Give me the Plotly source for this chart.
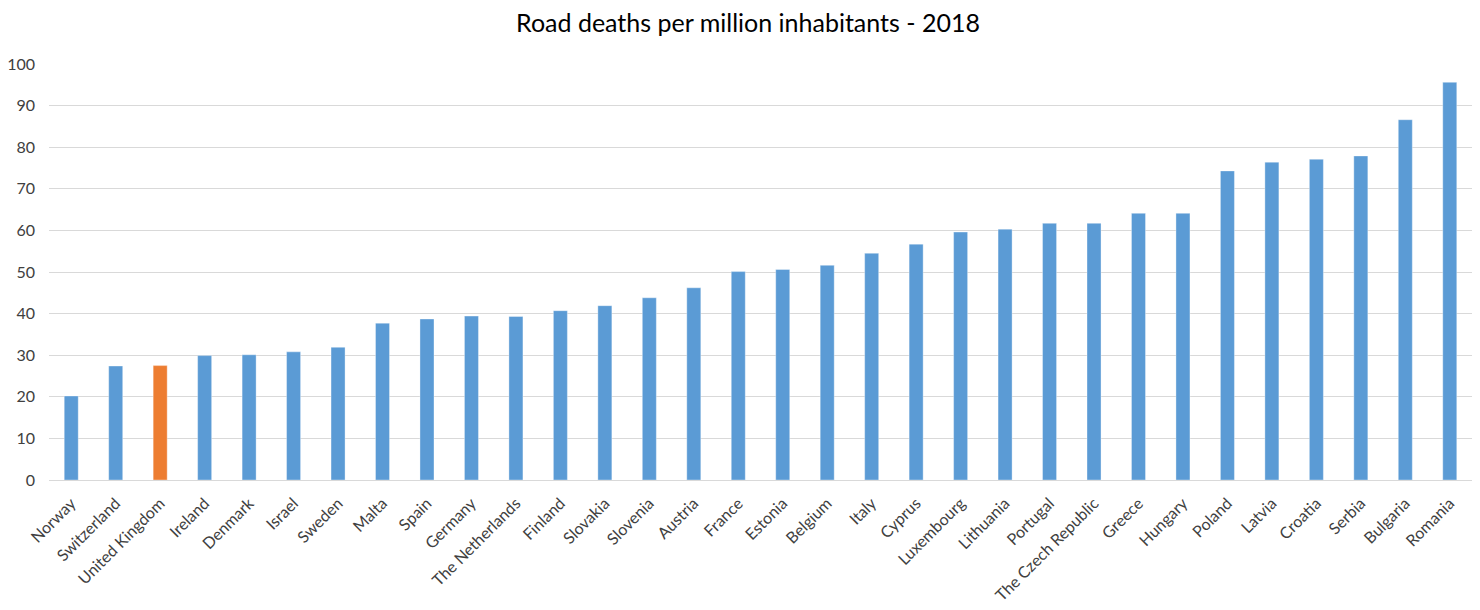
import plotly.graph_objects as go

countries = ["Norway", "Switzerland", "United Kingdom", "Ireland", "Denmark", "Israel", "Sweden",
             "Malta", "Spain", "Germany", "The Netherlands", "Finland", "Slovakia", "Slovenia",
             "Austria", "France", "Estonia", "Belgium", "Italy", "Cyprus", "Luxembourg",
             "Lithuania", "Portugal", "The Czech Republic", "Greece", "Hungary", "Poland",
             "Latvia", "Croatia", "Serbia", "Bulgaria", "Romania"]
deaths = [20.2, 27.4, 27.5, 29.9, 30.1, 30.8, 31.9,
          37.7, 38.7, 39.4, 39.3, 40.7, 41.9, 43.8,
          46.2, 50.1, 50.6, 51.6, 54.5, 56.7, 59.6,
          60.3, 61.7, 61.7, 64.1, 64.1, 74.3,
          76.4, 77.1, 77.9, 86.6, 95.6]
highlight = "United Kingdom"
y_ticks = list(range(0, 101, 10))

colors = ["#ED7D31" if c == highlight else "#5B9BD5" for c in countries]

fig = go.Figure(go.Bar(
    x=countries, y=deaths,
    marker=dict(color=colors, line=dict(color="rgba(255,255,255,0.35)", width=1)),
))

fig.update_layout(
    width=1480, height=610,
    paper_bgcolor="white", plot_bgcolor="white",
    margin=dict(l=41, r=16, t=56, b=138),
    bargap=0.685,
    showlegend=False,
    title=dict(text="Road deaths per million inhabitants - 2018", x=0.5, xref="container",
               xanchor="center",
               y=1 - 15 / 610, yref="container", yanchor="middle",
               font=dict(family="Lato, Open Sans, sans-serif", size=25, color="#000000")),
    font=dict(family="Lato, Open Sans, sans-serif", size=16, color="#404040"),
)
fig.update_xaxes(tickangle=-45, showgrid=False, showline=False, ticks="",
                 ticklabelstandoff=10, automargin=False,
                 tickfont=dict(size=16, color="#404040"))
fig.update_yaxes(range=[0, 100], tickvals=y_ticks, showgrid=True, gridcolor="#D9D9D9",
                 gridwidth=1.3, zeroline=True, zerolinecolor="#D9D9D9", zerolinewidth=1.3,
                 showline=False, ticks="", ticklabelstandoff=13, automargin=False,
                 tickfont=dict(size=16, color="#404040"))

fig.write_html("out.html")
